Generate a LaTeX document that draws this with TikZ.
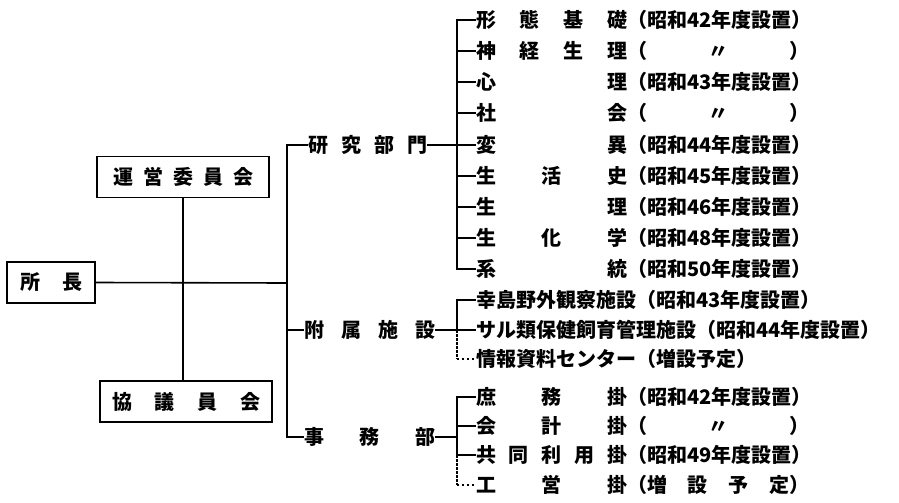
\documentclass[tikz,border=0pt]{standalone}
\usepackage{fontspec}
\setmainfont{Noto Sans CJK JP}
\begin{document}
\begin{tikzpicture}[x=1pt,y=-1pt,
		lbl/.style={anchor=west,inner sep=0pt,font=\fontsize{20}{20}\selectfont\bfseries},
		kbox/.style={draw,line width=1.5pt,minimum height=41pt,inner sep=0pt,font=\fontsize{20}{20}\selectfont\bfseries},
		ln/.style={line width=1.6pt},
		dashln/.style={line width=1.3pt,dash pattern=on 2.5pt off 1.5pt},
		dotline/.style={line width=1.8pt,dash pattern=on 1.8pt off 3.2pt}]
		\useasboundingbox (0,0) rectangle (899,503);

		\node[kbox,minimum width=172pt] (unei) at (183,177) {\makebox[140pt]{運\hfill 営\hfill 委\hfill 員\hfill 会}};
		\node[kbox,minimum width=88pt] (shocho) at (51,282.5) {\makebox[62pt]{所\hfill 長}};
		\node[kbox,minimum width=172pt] (kyogi) at (186,401.5) {\makebox[148pt]{協\hfill 議\hfill 員\hfill 会}};

		\node[lbl] (ken) at (308,145) {\makebox[119pt]{研\hfill 究\hfill 部\hfill 門}};
		\node[lbl] (fuz) at (304,330) {\makebox[131pt]{附\hfill 属\hfill 施\hfill 設}};
		\node[lbl] (jim) at (304,437) {\makebox[131pt]{事\hfill 務\hfill 部}};

		\node[lbl] (r1) at (476,20) {\makebox[151pt]{形\hfill 態\hfill 基\hfill 礎}（昭和42年度設置）};
		\node[lbl] (r2) at (476,51) {\makebox[151pt]{神\hfill 経\hfill 生\hfill 理}\makebox[182pt]{（\hfill 〃\hfill ）}};
		\node[lbl] (r3) at (476,82) {\makebox[151pt]{心\hfill 理}（昭和43年度設置）};
		\node[lbl] (r4) at (476,113) {\makebox[151pt]{社\hfill 会}\makebox[182pt]{（\hfill 〃\hfill ）}};
		\node[lbl] (r5) at (476,145) {\makebox[151pt]{変\hfill 異}（昭和44年度設置）};
		\node[lbl] (r6) at (476,176) {\makebox[151pt]{生\hfill 活\hfill 史}（昭和45年度設置）};
		\node[lbl] (r7) at (476,207) {\makebox[151pt]{生\hfill 理}（昭和46年度設置）};
		\node[lbl] (r8) at (476,238) {\makebox[151pt]{生\hfill 化\hfill 学}（昭和48年度設置）};
		\node[lbl] (r9) at (476,269) {\makebox[151pt]{系\hfill 統}（昭和50年度設置）};

		\node[lbl] (f1) at (476,300) {幸島野外観察施設（昭和43年度設置）};
		\node[lbl] (f2) at (476,330) {サル類保健飼育管理施設（昭和44年度設置）};
		\node[lbl] (f3) at (476,359) {情報資料センター（増設予定）};

		\node[lbl] (o1) at (476,397) {\makebox[151pt]{庶\hfill 務\hfill 掛}（昭和42年度設置）};
		\node[lbl] (o2) at (476,426) {\makebox[151pt]{会\hfill 計\hfill 掛}\makebox[182pt]{（\hfill 〃\hfill ）}};
		\node[lbl] (o3) at (476,455) {\makebox[151pt]{共\hfill 同\hfill 利\hfill 用\hfill 掛}（昭和49年度設置）};
		\node[lbl] (o4) at (476,485) {\makebox[151pt]{工\hfill 営\hfill 掛}\makebox[182pt]{（増\hfill 設\hfill 予\hfill 定）}};

		\coordinate (msp) at (287,283);
		\coordinate (rsp) at (457,145);
		\coordinate (fsp) at (457,330);
		\coordinate (osp) at (457,437);

		\draw[ln] (unei.south) -- (unei.south |- kyogi.north);
		\draw[ln] (shocho.east) -- (msp);
		\draw[ln] (ken.west) -| (msp) |- (jim.west);
		\draw[ln] (fuz.west) -- (msp |- fuz.west);

		\draw[ln] (r1.west) -| (rsp) |- (r9.west);
		\draw[ln] (ken.east) -- (r5.west);
		\draw[ln] (r2.west) -- (rsp |- r2.west);
		\draw[ln] (r3.west) -- (rsp |- r3.west);
		\draw[ln] (r4.west) -- (rsp |- r4.west);
		\draw[ln] (r6.west) -- (rsp |- r6.west);
		\draw[ln] (r7.west) -- (rsp |- r7.west);
		\draw[ln] (r8.west) -- (rsp |- r8.west);

		\draw[ln] (f1.west) -| (fsp);
		\draw[ln] (fuz.east) -- (f2.west);
		\draw[dashln] (fsp) -- (fsp |- f3.west);
		\draw[dotline] (fsp |- f3.west) -- (f3.west);

		\draw[ln] (o1.west) -| (osp) |- (o3.west);
		\draw[ln] (jim.east) -- (osp);
		\draw[ln] (o2.west) -- (osp |- o2.west);
		\draw[dashln] (osp |- o3.west) -- (osp |- o4.west);
		\draw[dotline] (osp |- o4.west) -- (o4.west);
	\end{tikzpicture}
\end{document}
